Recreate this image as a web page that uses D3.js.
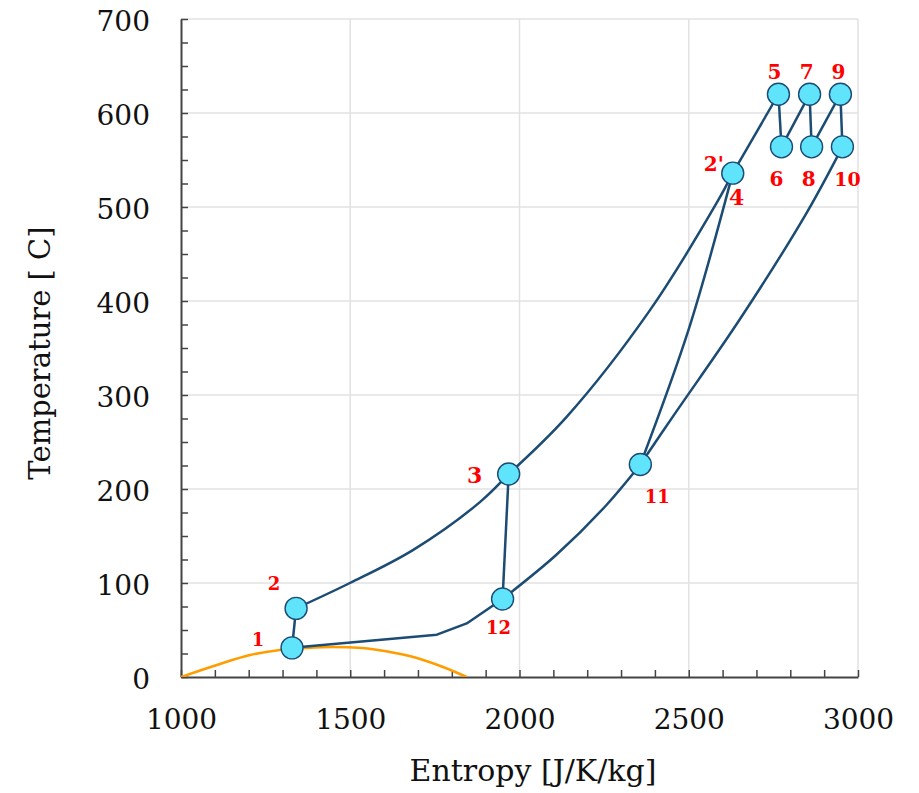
<!DOCTYPE html>
<html>
<head>
<meta charset="utf-8">
<script src="https://cdn.jsdelivr.net/npm/d3@7"></script>
<style>
    body { margin: 0; background: #fff; }
    text { font-family: "DejaVu Serif", serif; }
    .axis path, .axis line { stroke: #444; }
    .axis path { stroke-width: 2; }
    .axis line { stroke-width: 1.5; }
    .axis text { font-size: 28px; fill: #111; }
</style>
</head>
<body>
<div id="chart"></div>
<script>

// Tick labels
var xTicks = [1000, 1500, 2000, 2500, 3000];
var yTicks = [0, 100, 200, 300, 400, 500, 600, 700];

// Cycle states: entropy [J/K/kg] and temperature [C]
var stateEntropy = [1328, 1340, 1968, 2630, 2765, 2774, 2857, 2863, 2948, 2954, 2357, 1950];
var stateTemp = [31, 73, 216, 536, 620, 564, 620, 564, 620, 564, 226, 83];

// Labels and the state they belong to ("2'" and "4" share one point)
var labelNames = ["1", "2", "3", "2'", "4", "5", "6", "7", "8", "9", "10", "11", "12"];
var labelState = [0, 1, 2, 3, 3, 4, 5, 6, 7, 8, 9, 10, 11];

// Intermediate points [s, T]
var heat23 = [[1499, 100], [1685, 135], [1883, 186]];
var heat34 = [[2140, 277], [2385, 390], [2582, 504]];
var expand411 = [[2500, 370]];
var cool1011 = [[2847, 493], [2650, 380], [2453, 277]];
var cool1112 = [[2257, 183], [2109, 130]];
var cool121 = [[1844, 57], [1756, 45]];

// Processes: from state, to state, points in between, smooth or not
var processes = [
    [0, 1, [], false],
    [1, 2, heat23, true],
    [2, 3, heat34, true],
    [3, 4, [], false],
    [4, 5, [], false],
    [5, 6, [], false],
    [6, 7, [], false],
    [7, 8, [], false],
    [8, 9, [], false],
    [9, 10, cool1011, true],
    [10, 11, cool1112, true],
    [11, 0, cool121, false],
    [3, 10, expand411, true],
    [2, 11, [], false]
];

// Saturation dome
var domeEntropy = [1000, 1106, 1204, 1292, 1372, 1449, 1537, 1617, 1697, 1774, 1844];
var domeTemp = [0, 12.8, 23.4, 28.7, 30.9, 31.9, 30.9, 26.6, 20.2, 10.6, 0];


/*
 * TSDiagram - Object constructor function
 * @param _parentElement 	-- the HTML element in which to draw the visualization
 */

TSDiagram = function(_parentElement){
    this.parentElement = _parentElement;
    this.initVis();
}

TSDiagram.prototype.initVis = function(){
    var vis = this;

    vis.margin = { top: 19, right: 61, bottom: 116, left: 181 };
    vis.width = 919 - vis.margin.left - vis.margin.right;
    vis.height = 793 - vis.margin.top - vis.margin.bottom;

    // SVG drawing area
    vis.root = d3.select("#" + vis.parentElement).append("svg")
        .attr("width", vis.width + vis.margin.left + vis.margin.right)
        .attr("height", vis.height + vis.margin.top + vis.margin.bottom);
    vis.svg = vis.root.append("g")
        .attr("transform", "translate(" + vis.margin.left + "," + vis.margin.top + ")");

    // Scales
    vis.x = d3.scaleLinear().domain([1000, 3000]).range([0, vis.width]);
    vis.y = d3.scaleLinear().domain([0, 700]).range([vis.height, 0]);

    vis.svg.append("clipPath").attr("id", "plot-clip")
        .append("rect").attr("width", vis.width).attr("height", vis.height);

    // Grid lines
    var grid = vis.svg.append("g").attr("class", "grid");
    grid.selectAll("line.gx").data(xTicks.slice(1)).enter().append("line")
        .attr("class", "gx")
        .attr("x1", function(d){ return vis.x(d); })
        .attr("x2", function(d){ return vis.x(d); })
        .attr("y1", 0).attr("y2", vis.height);
    grid.selectAll("line.gy").data(yTicks.slice(1)).enter().append("line")
        .attr("class", "gy")
        .attr("x1", 0).attr("x2", vis.width)
        .attr("y1", function(d){ return vis.y(d); })
        .attr("y2", function(d){ return vis.y(d); });
    grid.selectAll("line").attr("stroke", "#e2e2e2").attr("stroke-width", 1.5);

    // Axes (ticks pointing inside)
    vis.xAxis = d3.axisBottom(vis.x)
        .tickValues(d3.range(1000, 3001, 100))
        .tickSizeInner(-7).tickSizeOuter(0).tickPadding(32)
        .tickFormat(function(d){ return xTicks.indexOf(d) >= 0 ? d : ""; });
    vis.yAxis = d3.axisLeft(vis.y)
        .tickValues(d3.range(0, 701, 25))
        .tickSizeInner(-7).tickSizeOuter(0).tickPadding(31)
        .tickFormat(function(d){ return yTicks.indexOf(d) >= 0 ? d : ""; });

    vis.svg.append("g").attr("class", "axis x-axis")
        .attr("transform", "translate(0," + vis.height + ")")
        .call(vis.xAxis);
    vis.svg.append("g").attr("class", "axis y-axis")
        .call(vis.yAxis)
        .selectAll("text").attr("dy", "0.42em");

    vis.svg.selectAll(".axis .domain").attr("stroke", "#444");

    // Axis titles
    vis.root.append("text")
        .attr("x", 533).attr("y", 781)
        .attr("text-anchor", "middle")
        .style("font-size", "30px")
        .attr("fill", "#111")
        .text("Entropy [J/K/kg]");
    vis.root.append("text")
        .attr("transform", "translate(50,353) rotate(-90)")
        .attr("text-anchor", "middle")
        .style("font-size", "29px")
        .attr("fill", "#111")
        .text("Temperature [ C]");

    vis.wrangleData();
};

TSDiagram.prototype.wrangleData = function(){
    var vis = this;

    vis.states = stateEntropy.map(function(s, i){ return { s: s, T: stateTemp[i] }; });

    vis.dome = domeEntropy.map(function(s, i){ return { s: s, T: domeTemp[i] }; });

    vis.paths = processes.map(function(p){
        var pts = [vis.states[p[0]]];
        p[2].forEach(function(q){ pts.push({ s: q[0], T: q[1] }); });
        pts.push(vis.states[p[1]]);
        return { points: pts, smooth: p[3] };
    });

    vis.labels = labelNames.map(function(name, i){
        return { name: name, state: vis.states[labelState[i]] };
    });

    vis.updateVis();
};

TSDiagram.prototype.updateVis = function(){
    var vis = this;

    var lineLinear = d3.line()
        .x(function(d){ return vis.x(d.s); })
        .y(function(d){ return vis.y(d.T); });
    var lineSmooth = d3.line()
        .x(function(d){ return vis.x(d.s); })
        .y(function(d){ return vis.y(d.T); })
        .curve(d3.curveCatmullRom.alpha(0.5));
    var domeLine = d3.line()
        .x(function(d){ return vis.x(d.s); })
        .y(function(d){ return vis.y(d.T); })
        .curve(d3.curveMonotoneX);

    // Saturation dome
    vis.svg.append("path")
        .datum(vis.dome)
        .attr("clip-path", "url(#plot-clip)")
        .attr("d", domeLine)
        .attr("fill", "none")
        .attr("stroke", "#ff9d00")
        .attr("stroke-width", 2.6);

    // Cycle processes
    vis.svg.selectAll("path.process")
        .data(vis.paths)
        .enter().append("path")
        .attr("class", "process")
        .attr("d", function(d){ return d.smooth ? lineSmooth(d.points) : lineLinear(d.points); })
        .attr("fill", "none")
        .attr("stroke", "#1c4b73")
        .attr("stroke-width", 2.5)
        .attr("stroke-linejoin", "round");

    // State points
    vis.svg.selectAll("circle.state")
        .data(vis.states)
        .enter().append("circle")
        .attr("class", "state")
        .attr("cx", function(d){ return vis.x(d.s); })
        .attr("cy", function(d){ return vis.y(d.T); })
        .attr("r", 11)
        .attr("fill", "#60e4fb")
        .attr("stroke", "#1c4b73")
        .attr("stroke-width", 1.4);

    // Label placement relative to the point: dx, dy, font size
    var labelOffset = {
        "1": [-34, -8, 18], "2": [-22, -25, 18], "3": [-34, 1, 22],
        "2'": [-19, -9, 20], "4": [4, 24, 22],
        "5": [-4, -22, 20], "7": [-3, -22, 20], "9": [-2, -22, 20],
        "6": [-5, 32, 20], "8": [-3, 32, 20], "10": [5, 32, 19],
        "11": [17, 32, 18], "12": [-4, 29, 18]
    };

    vis.svg.selectAll("text.state-label")
        .data(vis.labels)
        .enter().append("text")
        .attr("class", "state-label")
        .attr("x", function(d){ return vis.x(d.state.s) + labelOffset[d.name][0]; })
        .attr("y", function(d){ return vis.y(d.state.T) + labelOffset[d.name][1]; })
        .attr("text-anchor", "middle")
        .attr("dominant-baseline", "central")
        .style("font-size", function(d){ return labelOffset[d.name][2] + "px"; })
        .style("font-weight", "bold")
        .attr("fill", "#ff0000")
        .text(function(d){ return d.name; });
};

var diagram = new TSDiagram("chart");

</script>
</body>
</html>
